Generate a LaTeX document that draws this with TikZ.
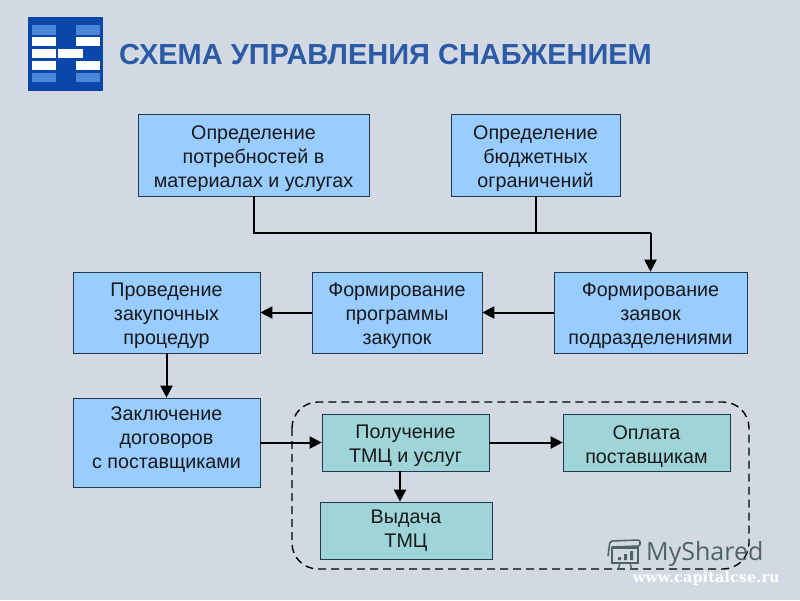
\documentclass[tikz,border=0pt]{standalone}
\usepackage{fontspec}
\setmainfont{Liberation Sans}
\newfontfamily\wwwfont{DejaVu Serif}
\newfontfamily\wmfont{Open Sans}
\usepackage{xcolor}
\definecolor{slidebg}{HTML}{D2D9E3}
\definecolor{boxblue}{HTML}{99CCFF}
\definecolor{boxteal}{HTML}{9FD5D8}
\definecolor{boxline}{HTML}{1F3A4D}
\definecolor{titleblue}{HTML}{2C5BA6}
\definecolor{logoblue}{HTML}{0A47A9}
\definecolor{logolight}{HTML}{4C86D8}
\definecolor{wmgrey}{HTML}{4F6366}
\usetikzlibrary{arrows.meta}
\newcommand{\firstline}{\rule{0pt}{21pt}}
\tikzset{
	box/.style={draw=boxline, semithick, align=center, inner sep=0pt, text=black!90,
			font=\fontsize{19.7}{24}\selectfont},
	bluebox/.style={box, fill=boxblue},
	tealbox/.style={box, fill=boxteal},
	link/.style={-{Triangle[length=12pt,width=12pt]}, line width=2pt, draw=black},
	plainlink/.style={line width=2pt, draw=black},
	logobar/.style={fill=white, draw=none, inner sep=0pt, minimum width=24.5pt, minimum height=9.5pt},
	logofade/.style={logobar, fill=logolight}
}
\begin{document}
\begin{tikzpicture}[x=1pt, y=-1pt]
  \useasboundingbox (0,0) rectangle (800,600);
  \fill[slidebg] (0,0) rectangle (800,600);

  % logo
  \node[fill=logoblue, inner sep=0pt, minimum width=75pt, minimum height=74.5pt] (logo) at (65.5,54) {};
  \node[logofade] (l1) at (44,30) {};
  \node[logofade] (l2) at (88,30) {};
  \node[logobar] (l3) at (44,41.5) {};
  \node[logobar] (l4) at (88,41.5) {};
  \node[logobar] (l5) at (44,53.5) {};
  \node[logobar] (l6) at (70.5,53.5) {};
  \node[logobar] (l7) at (44,65.5) {};
  \node[logobar] (l8) at (88,65.5) {};
  \node[logofade] (l9) at (44,77.5) {};
  \node[logofade] (l10) at (88,77.5) {};

  \node[anchor=west, inner sep=0pt, text=titleblue, font=\fontsize{29}{32}\selectfont\bfseries] (title) at (119,55) {СХЕМА УПРАВЛЕНИЯ СНАБЖЕНИЕМ};

  % boxes
  \node[bluebox, minimum width=231pt, minimum height=82pt] (needs) at (253.5,155) {\firstline Определение\\потребностей в\\материалах и услугах};
  \node[bluebox, minimum width=169pt, minimum height=82pt] (budget) at (535.5,155) {\firstline Определение\\бюджетных\\ограничений};
  \node[bluebox, minimum width=193pt, minimum height=81pt] (requests) at (650.5,312.5) {\firstline Формирование\\заявок\\подразделениями};
  \node[bluebox, minimum width=170pt, minimum height=81pt] (program) at (397,312.5) {\firstline Формирование\\программы\\закупок};
  \node[bluebox, minimum width=187pt, minimum height=81pt] (tender) at (166.5,312.5) {\firstline Проведение\\закупочных\\процедур};
  \node[bluebox, execute at end node={\rule[-9pt]{0pt}{0pt}}, minimum width=187pt, minimum height=89pt] (contract) at (166.5,442.5) {Заключение\\договоров\\с поставщиками};
  \node[tealbox, minimum width=167pt, minimum height=57pt] (receipt) at (405.5,442.5) {\firstline Получение\\ТМЦ и услуг};
  \node[tealbox, minimum width=167pt, minimum height=57pt] (payment) at (646.5,442.5) {\firstline Оплата\\поставщикам};
  \node[tealbox, minimum width=172pt, minimum height=57pt] (issue) at (406,530.5) {Выдача\\ТМЦ};

  % dashed frame
  \draw[black, line width=1.4pt, dash pattern=on 8pt off 5pt, rounded corners=26pt] (292,402) rectangle (749,569);

  % connectors
  \coordinate (j1) at (needs.south |- 0,233);
  \coordinate (j2) at (budget.south |- 0,233);
  \coordinate (j3) at (requests.north |- 0,233);
  \draw[plainlink] (needs.south) -- (j1) -- (j3);
  \draw[plainlink] (budget.south) -- (j2);
  \draw[link] (j3) -- (requests.north);
  \draw[link] (requests) -- (program);
  \draw[link] (program) -- (tender);
  \draw[link] (tender) -- (contract);
  \draw[link] (contract.east |- receipt) -- (receipt);
  \draw[link] (receipt) -- (payment);
  \draw[link] ([xshift=-5.5pt]receipt.south) -- ([xshift=-5.5pt]receipt.south |- issue.north);

  % watermark
  \node[anchor=west, inner sep=0pt, text=wmgrey, font=\fontsize{25}{28}\wmfont] (myshared) at (646,554) {MyShared};
  \node[anchor=east, inner sep=0pt, text=white, font=\fontsize{14.6}{16}\wwwfont\bfseries] (www) at (780,578) {www.capitalcse.ru};
  \draw[wmgrey, line width=1.6pt] (612,548) rectangle (638,563);
  \draw[wmgrey, line width=1.6pt, rounded corners=2pt] (608,556) -- (610,541) -- (640,540) -- (640,546) -- (612,547);
  \fill[wmgrey] (618,557) rectangle (621,560) (624,554) rectangle (627,560) (630,551) rectangle (633,560);
  \draw[wmgrey, line width=1.4pt] (620,563) -- (618,570) (630,563) -- (632,570);
\end{tikzpicture}
\end{document}
